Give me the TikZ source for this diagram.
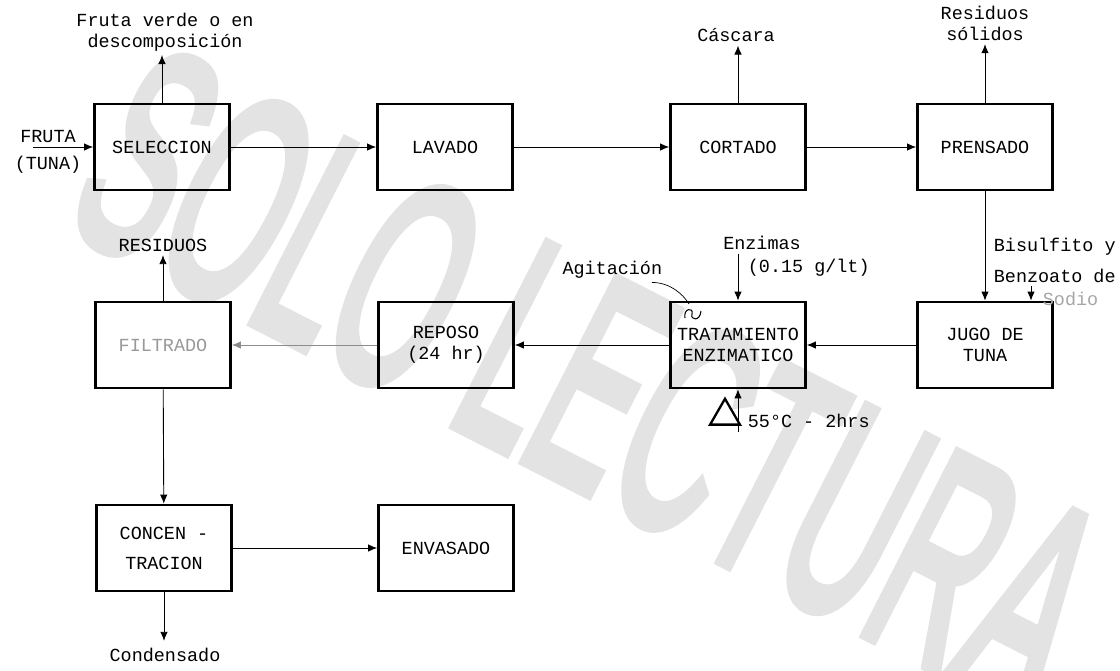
\documentclass[tikz,border=0pt]{standalone}
\usepackage{fontspec}
\setmainfont{Liberation Mono}
\newfontfamily\markfont{Liberation Sans}[FakeBold=4]
\usetikzlibrary{arrows.meta,shapes.geometric}
\newcommand\lblsize{\fontsize{10.5}{12}\selectfont}

\begin{document}
\begin{tikzpicture}[
    x=0.02cm, y=-0.02cm,
    procbox/.style={draw, line width=1.6pt, minimum width=2.7cm, minimum height=1.72cm, align=center, font=\lblsize},
    lbl/.style={font=\lblsize, inner sep=2pt, align=center},
    wmark/.style={text=black!11, font=\markfont\fontsize{80}{80}\selectfont, rotate=-27, yscale=2.1},
    heatmark/.style={regular polygon, regular polygon sides=3, draw, line width=1.3pt, minimum size=0.69cm, inner sep=0pt},
    arrow/.style={-{Latex[length=1.8mm,width=1.5mm]}, line width=0.5pt}
  ]
    \useasboundingbox (0,0) rectangle (1120,670);
    \node[wmark] (mark) at (590,380) {SOLO LECTURA};

    % etapas del proceso
    \node[procbox] (sel) at (162,147) {SELECCION};
    \node[procbox] (lav) at (445,147) {LAVADO};
    \node[procbox] (cort) at (738,147) {CORTADO};
    \node[procbox] (pren) at (985,147) {PRENSADO};
    \node[procbox] (jugo) at (985,345) {JUGO DE\\TUNA};
    \node[procbox] (trat) at (738,345) {TRATAMIENTO\\ENZIMATICO};
    \node[procbox] (rep) at (446,345) {REPOSO\\(24 hr)};
    \node[procbox, text=black!40] (filt) at (163,345) {FILTRADO};
    \node[procbox] (conc) at (164,548) {CONCEN -\\[5pt]TRACION};
    \node[procbox] (env) at (446,548) {ENVASADO};
    \foreach \a/\b in {sel/lav,lav/cort,cort/pren,pren/jugo,jugo/trat,trat/rep,filt/conc,conc/env} {\draw[arrow] (\a) -- (\b);}
    \draw[arrow, draw=black!45] (rep) -- (filt);

    % entradas y salidas
    \node[lbl, anchor=south] (fruta) at (48,147) {FRUTA};
    \node[lbl, anchor=north] (tuna) at (48,152) {(TUNA)};
    \coordinate (fin) at (33,147);
    \draw[arrow] (fin) -- (sel.west);
    \node[lbl] (fv) at (165,32) {Fruta verde o en\\descomposición};
    \draw[arrow] (sel.north) -- (sel.north |- fv.south);
    \node[lbl] (casc) at (736,35) {Cáscara};
    \draw[arrow] (cort.north) -- (cort.north |- casc.south);
    \node[lbl] (ressol) at (985,23) {Residuos\\sólidos};
    \draw[arrow] (pren.north) -- (pren.north |- ressol.south);
    \node[lbl, anchor=west] (bis1) at (990,247) {Bisulfito y};
    \node[lbl, anchor=west] (bis2) at (990,276) {Benzoato de};
    \node[lbl, anchor=west, text=black!35] (bis3) at (1039,299) {Sodio};
    \coordinate (bisin) at (1031,286);
    \draw[arrow] (bisin) -- (bisin |- jugo.north);
    \node[lbl] (enz) at (762,243) {Enzimas};
    \node[lbl, anchor=west] (dosis) at (744,268) {(0.15 g/lt)};
    \draw[arrow] (trat.north |- enz.south) -- (trat.north);
    \node[lbl, anchor=east] (agit) at (666,270) {Agitación};
    \draw[line width=0.4pt] ([xshift=-8pt]agit.south east) .. controls +(18,0) and +(-6,-10) .. (689,304);
    \draw[line width=0.6pt] (685,318) .. controls (683,308) and (694,307) .. (692,314) .. controls (690,320) and (700,322) .. (701,311);
    \node[heatmark] (heat) at (725,416) {};
    \node[lbl, anchor=west] (temp) at (744,421) {55°C - 2hrs};
    \draw[arrow] (trat.south |- temp.south) -- (trat.south);
    \node[lbl] (res) at (163,245) {RESIDUOS};
    \draw[arrow] (filt.north) -- (filt.north |- res.south);
    \node[lbl, inner sep=4pt] (cond) at (165,655) {Condensado};
    \draw[arrow] (conc.south) -- (conc.south |- cond.north);
  \end{tikzpicture}
\end{document}
